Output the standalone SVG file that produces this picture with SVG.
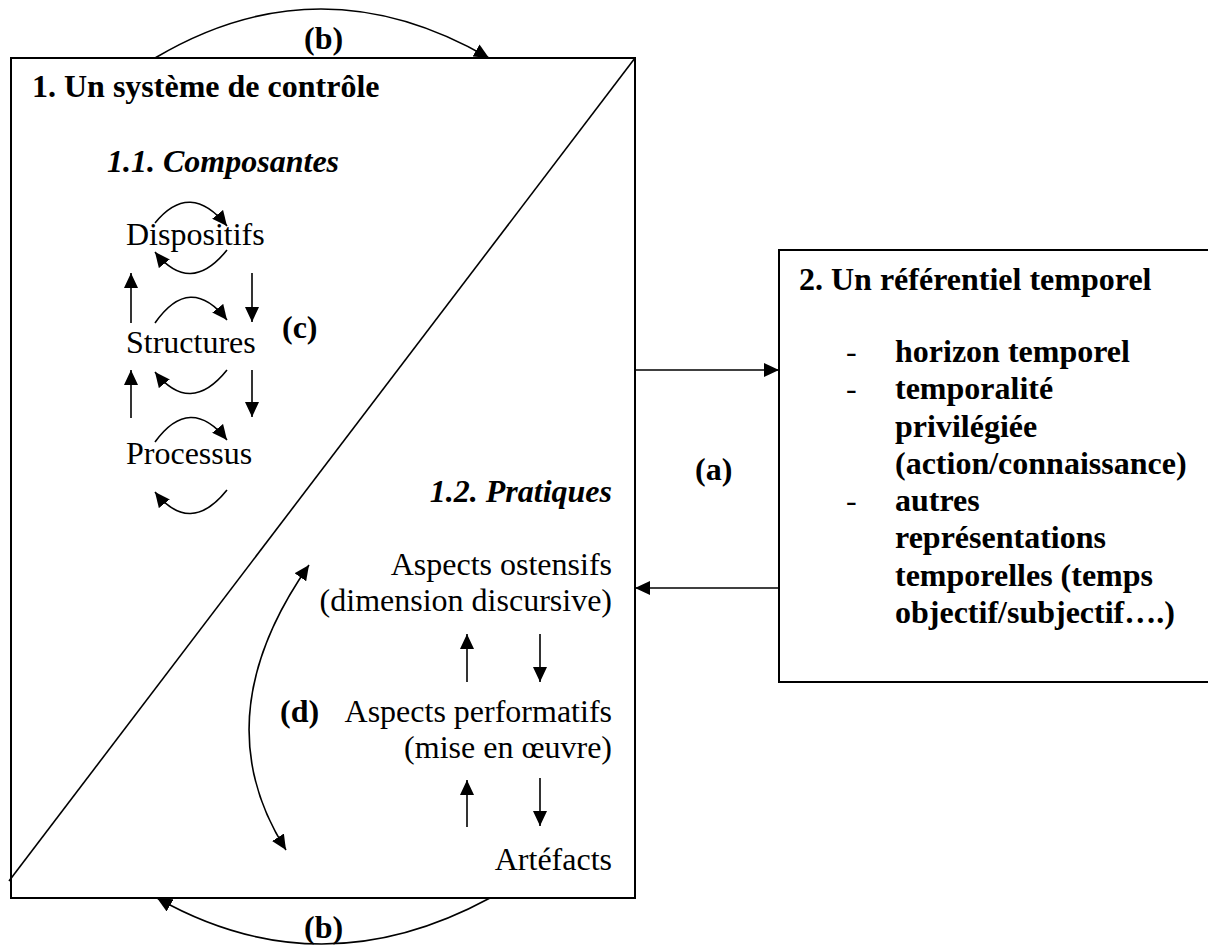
<svg xmlns="http://www.w3.org/2000/svg" width="1208" height="945" viewBox="0 0 1208 945">
<defs>
<style>
text{font-family:"Liberation Serif","Times New Roman",serif;font-size:32px;fill:#000}
.b{font-weight:bold}
.bi{font-weight:bold;font-style:italic}
.r{text-anchor:end}
.box{fill:#fff;stroke:#000;stroke-width:2}
.ln{fill:none;stroke:#000;stroke-width:1.6}
</style>
<marker id="ah" markerUnits="userSpaceOnUse" markerWidth="16" markerHeight="14" refX="15" refY="7" orient="auto-start-reverse">
<path d="M0,0 L15,7 L0,14 z" fill="#000"/>
</marker>
</defs>
<rect width="1208" height="945" fill="#fff"/>

<g id="node-controle">
<rect class="box" x="11" y="58" width="624" height="840"/>
<line class="ln" x1="635" y1="58" x2="9" y2="881"/>
<text class="b" x="32" y="97">1. Un système de contrôle</text>
</g>

<g id="node-composantes">
<text class="bi" x="107" y="172">1.1. Composantes</text>
<text x="126" y="245">Dispositifs</text>
<text x="126" y="353">Structures</text>
<text x="126" y="464">Processus</text>
<text class="b" x="282" y="338">(c)</text>
</g>

<g id="node-pratiques">
<text class="bi r" x="612" y="502">1.2. Pratiques</text>
<text class="r" x="612" y="575">Aspects ostensifs</text>
<text class="r" x="612" y="611">(dimension discursive)</text>
<text class="r" x="612" y="722">Aspects performatifs</text>
<text class="r" x="612" y="758">(mise en œuvre)</text>
<text class="r" x="612" y="870">Artéfacts</text>
<text class="b" x="280" y="722">(d)</text>
</g>

<g id="node-referentiel">
<rect class="box" x="779" y="250" width="440" height="432"/>
<text class="b" x="799" y="290">2. Un référentiel temporel</text>
<text x="846" y="362">-</text>
<text x="846" y="399">-</text>
<text x="846" y="511">-</text>
<text class="b" x="895" y="362">horizon temporel</text>
<text class="b" x="895" y="399">temporalité</text>
<text class="b" x="895" y="437">privilégiée</text>
<text class="b" x="895" y="474">(action/connaissance)</text>
<text class="b" x="895" y="511">autres</text>
<text class="b" x="895" y="548">représentations</text>
<text class="b" x="895" y="586">temporelles (temps</text>
<text class="b" x="895" y="623">objectif/subjectif….)</text>
</g>

<g id="labels">
<text class="b" x="304" y="49">(b)</text>
<text class="b" x="304" y="938">(b)</text>
<text class="b" x="695" y="480">(a)</text>
</g>

<g id="connectors">
<path class="ln" d="M155,58 Q320,-40 489,58" marker-end="url(#ah)"/>
<path class="ln" d="M490,898 Q320,990 157,898" marker-end="url(#ah)"/>
<line class="ln" x1="635" y1="370" x2="779" y2="370" marker-end="url(#ah)"/>
<line class="ln" x1="779" y1="588" x2="635" y2="588" marker-end="url(#ah)"/>
<path class="ln" d="M155,223 Q190,180 227,226" marker-end="url(#ah)"/>
<path class="ln" d="M227,250 Q190,296 155,252" marker-end="url(#ah)"/>
<line class="ln" x1="131" y1="323" x2="131" y2="273" marker-end="url(#ah)"/>
<line class="ln" x1="252" y1="273" x2="252" y2="322" marker-end="url(#ah)"/>
<path class="ln" d="M155,323 Q190,273 227,320" marker-end="url(#ah)"/>
<path class="ln" d="M227,370 Q190,416 155,372" marker-end="url(#ah)"/>
<line class="ln" x1="131" y1="418" x2="131" y2="370" marker-end="url(#ah)"/>
<line class="ln" x1="252" y1="370" x2="252" y2="417" marker-end="url(#ah)"/>
<path class="ln" d="M155,442 Q190,394 227,440" marker-end="url(#ah)"/>
<path class="ln" d="M227,490 Q190,536 155,492" marker-end="url(#ah)"/>
<line class="ln" x1="467" y1="682" x2="467" y2="634" marker-end="url(#ah)"/>
<line class="ln" x1="540" y1="634" x2="540" y2="682" marker-end="url(#ah)"/>
<line class="ln" x1="467" y1="827" x2="467" y2="780" marker-end="url(#ah)"/>
<line class="ln" x1="540" y1="778" x2="540" y2="826" marker-end="url(#ah)"/>
<path class="ln" d="M309,565 Q202,718 286,850" marker-start="url(#ah)" marker-end="url(#ah)"/>
</g>
</svg>
